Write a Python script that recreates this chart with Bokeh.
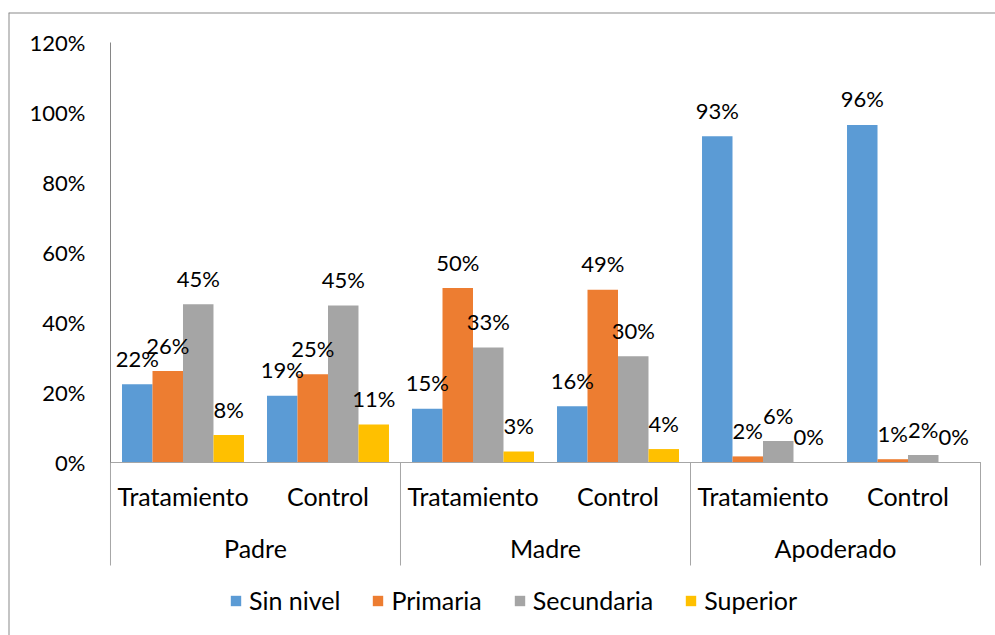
from bokeh.plotting import figure
from bokeh.models import Range1d, LinearAxis, FixedTicker, NumeralTickFormatter, ColumnDataSource
from bokeh.core.properties import value
from bokeh.transform import dodge
from bokeh.embed import file_html
from bokeh.resources import INLINE

# ---------------- data ----------------
groups = ["Padre", "Madre", "Apoderado"]
subgroups = ["Tratamiento", "Control"]
series = ["Sin nivel", "Primaria", "Secundaria", "Superior"]
sin_nivel = [0.222, 0.189, 0.152, 0.159, 0.931, 0.963]
primaria = [0.260, 0.251, 0.497, 0.492, 0.016, 0.008]
secundaria = [0.451, 0.447, 0.327, 0.302, 0.060, 0.020]
superior = [0.077, 0.107, 0.030, 0.037, 0.000, 0.000]
y_ticks = [0.0, 0.2, 0.4, 0.6, 0.8, 1.0, 1.2]

# ---------------- style ----------------
colors = ["#5B9BD5", "#ED7D31", "#A5A5A5", "#FFC000"]
FONT = "Lato"
FS_NUM = "22px"
FS_TXT = "25px"
TXT = "#000000"

n_cat = len(groups) * len(subgroups)
x_start, x_end = -0.7034, 6.1034
y_start, y_end = -0.4957, 1.2843

p = figure(width=995, height=635,
           x_range=Range1d(x_start, x_end), y_range=Range1d(y_start, y_end),
           x_axis_type=None, y_axis_type=None,
           toolbar_location=None, output_backend="svg",
           min_border_left=8, min_border_right=0, min_border_top=12, min_border_bottom=0,
           outline_line_color=None)
p.background_fill_color = "white"
p.border_fill_color = "white"

cat_x = [i + 0.5 for i in range(n_cat)]
bar_w = 0.2103
offsets = [(k - 1.5) * bar_w for k in range(len(series))]
all_vals = [sin_nivel, primaria, secundaria, superior]

sources = []
for k, (name, vals) in enumerate(zip(series, all_vals)):
    src = ColumnDataSource(dict(x=cat_x, top=vals,
                                label=[f"{round(v * 100)}%" for v in vals]))
    sources.append(src)
    p.vbar(x=dodge("x", offsets[k]), top="top", bottom=0, width=bar_w, source=src,
           fill_color=colors[k], line_color=None, legend_label=name)

for k, src in enumerate(sources):
    p.text(x=dodge("x", offsets[k]), y="top", text="label", source=src,
           text_align="center", text_baseline="alphabetic", y_offset=-26,
           text_font=value(FONT), text_font_size=FS_NUM, text_color=TXT)

# y axis
yax = LinearAxis(fixed_location=0, ticker=FixedTicker(ticks=y_ticks),
                 formatter=NumeralTickFormatter(format="0%"), bounds=(0, 1.2))
yax.axis_line_color = "#868686"
yax.major_tick_line_color = None
yax.major_tick_out = 0
yax.major_tick_in = 0
yax.minor_tick_line_color = None
yax.minor_tick_out = 0
yax.major_label_standoff = 25
yax.major_label_text_font = FONT
yax.major_label_text_font_size = FS_NUM
yax.major_label_text_color = TXT
p.add_layout(yax, "left")

# x axis line at zero
xax = LinearAxis(fixed_location=0, ticker=FixedTicker(ticks=[]), bounds=(0, n_cat))
xax.axis_line_color = "#A6A6A6"
xax.major_tick_line_color = None
xax.minor_tick_line_color = None
xax.major_label_text_font_size = "0px"
p.add_layout(xax, "below")

# category labels and separators
sep_x = [i * len(subgroups) for i in range(len(groups) + 1)]
p.segment(x0=sep_x, y0=[0] * len(sep_x), x1=sep_x, y1=[-0.2957] * len(sep_x),
          line_color="#A6A6A6", line_width=1)
p.text(x=cat_x, y=[-0.0957] * n_cat, text=subgroups * len(groups),
       text_align="center", text_baseline="alphabetic",
       text_font=value(FONT), text_font_size=FS_TXT, text_color=TXT)
grp_x = [i * len(subgroups) + len(subgroups) / 2 for i in range(len(groups))]
p.text(x=grp_x, y=[-0.2448] * len(groups), text=groups,
       text_align="center", text_baseline="alphabetic",
       text_font=value(FONT), text_font_size=FS_TXT, text_color=TXT)

# chart border (top and left visible)
p.segment(x0=[x_start, x_start], y0=[y_end, y_end], x1=[x_end, x_start], y1=[y_end, y_start],
          line_color="#898989", line_width=2)

# legend
lg = p.legend[0]
lg.orientation = "horizontal"
lg.location = (221, 20)
lg.glyph_width = 13
lg.glyph_height = 13
lg.label_standoff = 7
lg.spacing = 31
lg.padding = 0
lg.margin = 0
lg.border_line_color = None
lg.background_fill_alpha = 0
lg.label_text_font = FONT
lg.label_text_font_size = FS_TXT
lg.label_text_color = TXT

open("out.html", "w").write(file_html(p, INLINE))
